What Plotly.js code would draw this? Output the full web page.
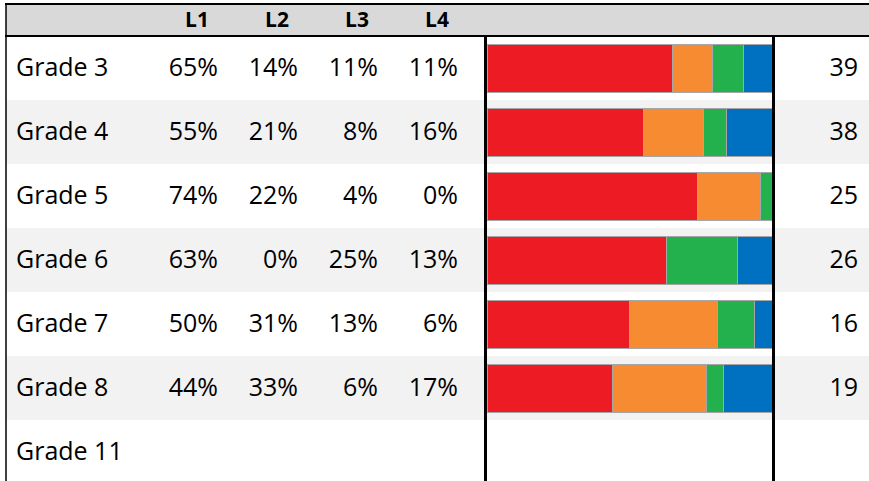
<!DOCTYPE html>
<html>
<head>
<meta charset="utf-8">
<script src="https://cdn.plot.ly/plotly-3.0.1.min.js"></script>
<style>html,body{margin:0;padding:0;background:#fff;}#chart{width:869px;height:481px;}</style>
</head>
<body>
<div id="chart"></div>
<script>
// ---- data ----
const grades = ['Grade 3', 'Grade 4', 'Grade 5', 'Grade 6', 'Grade 7', 'Grade 8', 'Grade 11'];
const levels = ['L1', 'L2', 'L3', 'L4'];
const L1 = [65, 55, 74, 63, 50, 44];
const L2 = [14, 21, 22, 0, 31, 33];
const L3 = [11, 8, 4, 25, 13, 6];
const L4 = [11, 16, 0, 13, 6, 17];
const counts = [39, 38, 25, 26, 16, 19];

// ---- styling / layout ----
const W = 869, H = 481;
const FONT = 'Open Sans, sans-serif';
const colors = ['#ed1c24', '#f68b32', '#22b14c', '#0070c0'];
const series = [L1, L2, L3, L4];
const rowIdx = grades.map((g, i) => i);
const dataRows = L1.map((v, i) => i);
const colRight = [218, 298, 378, 458];   // right edges of percent columns (px units on x)
const headerY = -0.72;

const traces = [];

// stacked bars
series.forEach((s, k) => {
  traces.push({
    type: 'bar', orientation: 'h',
    x: s, y: dataRows,
    xaxis: 'x2', yaxis: 'y',
    width: 0.75,
    marker: {color: colors[k], line: {color: '#a6a6a6', width: 1}},
    hoverinfo: 'skip', showlegend: false
  });
});

// grade labels
traces.push({
  type: 'scatter', mode: 'text',
  x: rowIdx.map(() => 16), y: rowIdx.map(i => i + 0.02),
  text: grades, textposition: 'middle right',
  textfont: {family: FONT, size: 25, color: '#000'},
  hoverinfo: 'skip', showlegend: false
});

// percentage columns
series.forEach((s, k) => {
  traces.push({
    type: 'scatter', mode: 'text',
    x: s.map(() => colRight[k]), y: dataRows.map(i => i + 0.02),
    text: s.map(v => v + '%'), textposition: 'middle left',
    textfont: {family: FONT, size: 25, color: '#000'},
    hoverinfo: 'skip', showlegend: false
  });
});

// header labels
traces.push({
  type: 'scatter', mode: 'text',
  x: colRight.map(r => r - 21), y: levels.map(() => headerY),
  text: levels, textposition: 'middle center',
  textfont: {family: FONT, size: 21, color: '#000', weight: 'bold'},
  hoverinfo: 'skip', showlegend: false
});

// counts
traces.push({
  type: 'scatter', mode: 'text',
  x: counts.map(() => 858), y: dataRows.map(i => i + 0.02),
  text: counts.map(String), textposition: 'middle left',
  textfont: {family: FONT, size: 25, color: '#000'},
  hoverinfo: 'skip', showlegend: false
});

// y mapping: row i centre at 68 + 64*i px
const yTop = (0 - 68) / 64, yBot = (H - 68) / 64;

const shapes = [];
rowIdx.forEach(i => {
  if (i % 2 === 1) {
    shapes.push({type: 'rect', xref: 'x', yref: 'y', x0: 6, x1: W, y0: i - 0.5, y1: i + 0.5,
      fillcolor: '#f2f2f2', line: {width: 0}, layer: 'below'});
  }
});
// header band
shapes.push({type: 'rect', xref: 'x', yref: 'y', x0: 6, x1: W, y0: -1.0, y1: -0.5,
  fillcolor: '#d9d9d9', line: {width: 0}, layer: 'below'});
shapes.push({type: 'line', xref: 'x', yref: 'y', x0: 5, x1: W, y0: -1.0, y1: -1.0, line: {color: '#000', width: 2}});
shapes.push({type: 'line', xref: 'x', yref: 'y', x0: 5, x1: W, y0: -0.5, y1: -0.5, line: {color: '#000', width: 2}});
// left border
shapes.push({type: 'line', xref: 'x', yref: 'y', x0: 6, x1: 6, y0: -1.0, y1: yBot, line: {color: '#000', width: 1.5}});
// chart panel borders
shapes.push({type: 'line', xref: 'x', yref: 'y', x0: 485.5, x1: 485.5, y0: -0.5, y1: yBot, line: {color: '#000', width: 3}});
shapes.push({type: 'line', xref: 'x', yref: 'y', x0: 773.5, x1: 773.5, y0: -0.5, y1: yBot, line: {color: '#000', width: 3}});

const layout = {
  width: W, height: H,
  margin: {l: 0, r: 0, t: 0, b: 0, pad: 0},
  paper_bgcolor: '#fff', plot_bgcolor: 'rgba(0,0,0,0)',
  barmode: 'stack', bargap: 0,
  showlegend: false,
  xaxis: {domain: [0, 1], range: [0, W], visible: false, fixedrange: true},
  xaxis2: {domain: [487 / W, 772 / W], range: [0, 100], visible: false, anchor: 'y', fixedrange: true},
  yaxis: {domain: [0, 1], range: [yBot, yTop], visible: false, fixedrange: true},
  shapes: shapes,
  font: {family: FONT}
};

Plotly.newPlot('chart', traces, layout, {staticPlot: true, displayModeBar: false});
</script>
</body>
</html>
